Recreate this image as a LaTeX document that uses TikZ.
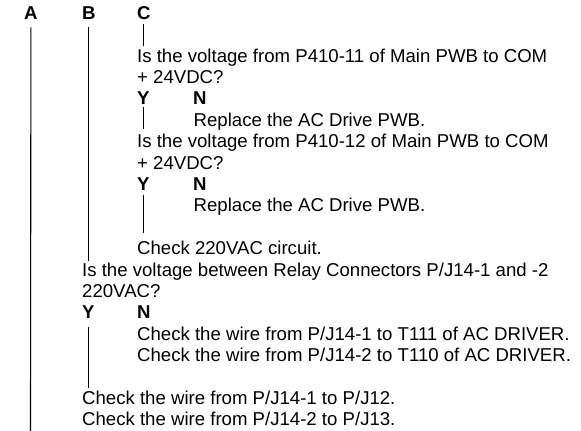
\documentclass[tikz,border=0pt]{standalone}
\usepackage{fontspec}
\setmainfont{Liberation Sans}

\begin{document}
\begin{tikzpicture}[x=1pt, y=1pt, every node/.style={anchor=base west, inner sep=0pt, font=\fontsize{18.6}{21.4}\selectfont}, hd/.style={font=\fontsize{18.6}{21.4}\selectfont\bfseries}, bar/.style={line width=1.1pt}]
    \useasboundingbox (0,0) rectangle (581,-431);

    % Draw column heads
    \node (A) at (24, -19.2) [hd] {A};
    \node (B) at (82, -19.2) [hd] {B};
    \node (C) at (137, -19.2) [hd] {C};
    \coordinate (end) at (30.5, -431);

    % Draw steps of column C
    \node (q1) at (137, -62) {Is the voltage from P410-11 of Main PWB to COM};
    \node (q1b) at (137, -83.4) {+ 24VDC?};
    \node (y1) at (137, -104.8) [hd] {Y};
    \node (n1) at (193, -104.8) [hd] {N};
    \node (r1) at (193.5, -126.2) {Replace the AC Drive PWB.};
    \node (q2) at (137, -147.6) {Is the voltage from P410-12 of Main PWB to COM};
    \node (q2b) at (137, -169) {+ 24VDC?};
    \node (y2) at (137, -190.4) [hd] {Y};
    \node (n2) at (193, -190.4) [hd] {N};
    \node (r2) at (193.5, -211.8) {Replace the AC Drive PWB.};
    \node (c1) at (137, -254.6) {Check 220VAC circuit.};

    % Draw steps of column B
    \node (q3) at (82, -276) {Is the voltage between Relay Connectors P/J14-1 and -2};
    \node (q3b) at (82, -297.4) {220VAC?};
    \node (y3) at (82, -318.8) [hd] {Y};
    \node (n3) at (137, -318.8) [hd] {N};
    \node (w1) at (137, -340.2) {Check the wire from P/J14-1 to T111 of AC DRIVER.};
    \node (w2) at (137, -361.6) {Check the wire from P/J14-2 to T110 of AC DRIVER.};
    \node (w3) at (82, -404.4) {Check the wire from P/J14-1 to P/J12.};
    \node (w4) at (82, -425.8) {Check the wire from P/J14-2 to P/J13.};

    % Draw flow lines
    \draw[bar, shorten <=8pt] (A.south) -- (end); % Column A runs off the page
    \draw[bar, shorten <=8pt, shorten >=1pt] (B.south) -- (B.south |- q3.north); % Column B to its question
    \draw[bar, shorten <=4pt, shorten >=2pt] (C.south) -- (C.south |- q1.north); % Column C to its question
    \draw[bar, shorten <=2pt, shorten >=5pt] (y1.south) -- (y1.south |- q2.north); % Yes to next question
    \draw[bar, shorten <=4pt, shorten >=8pt] (y2.south) -- (y2.south |- c1.north); % Yes to check
    \draw[bar, shorten <=8pt, shorten >=3pt] (y3.south) -- (y3.south |- w3.north); % Yes to check wires

\end{tikzpicture}
\end{document}
